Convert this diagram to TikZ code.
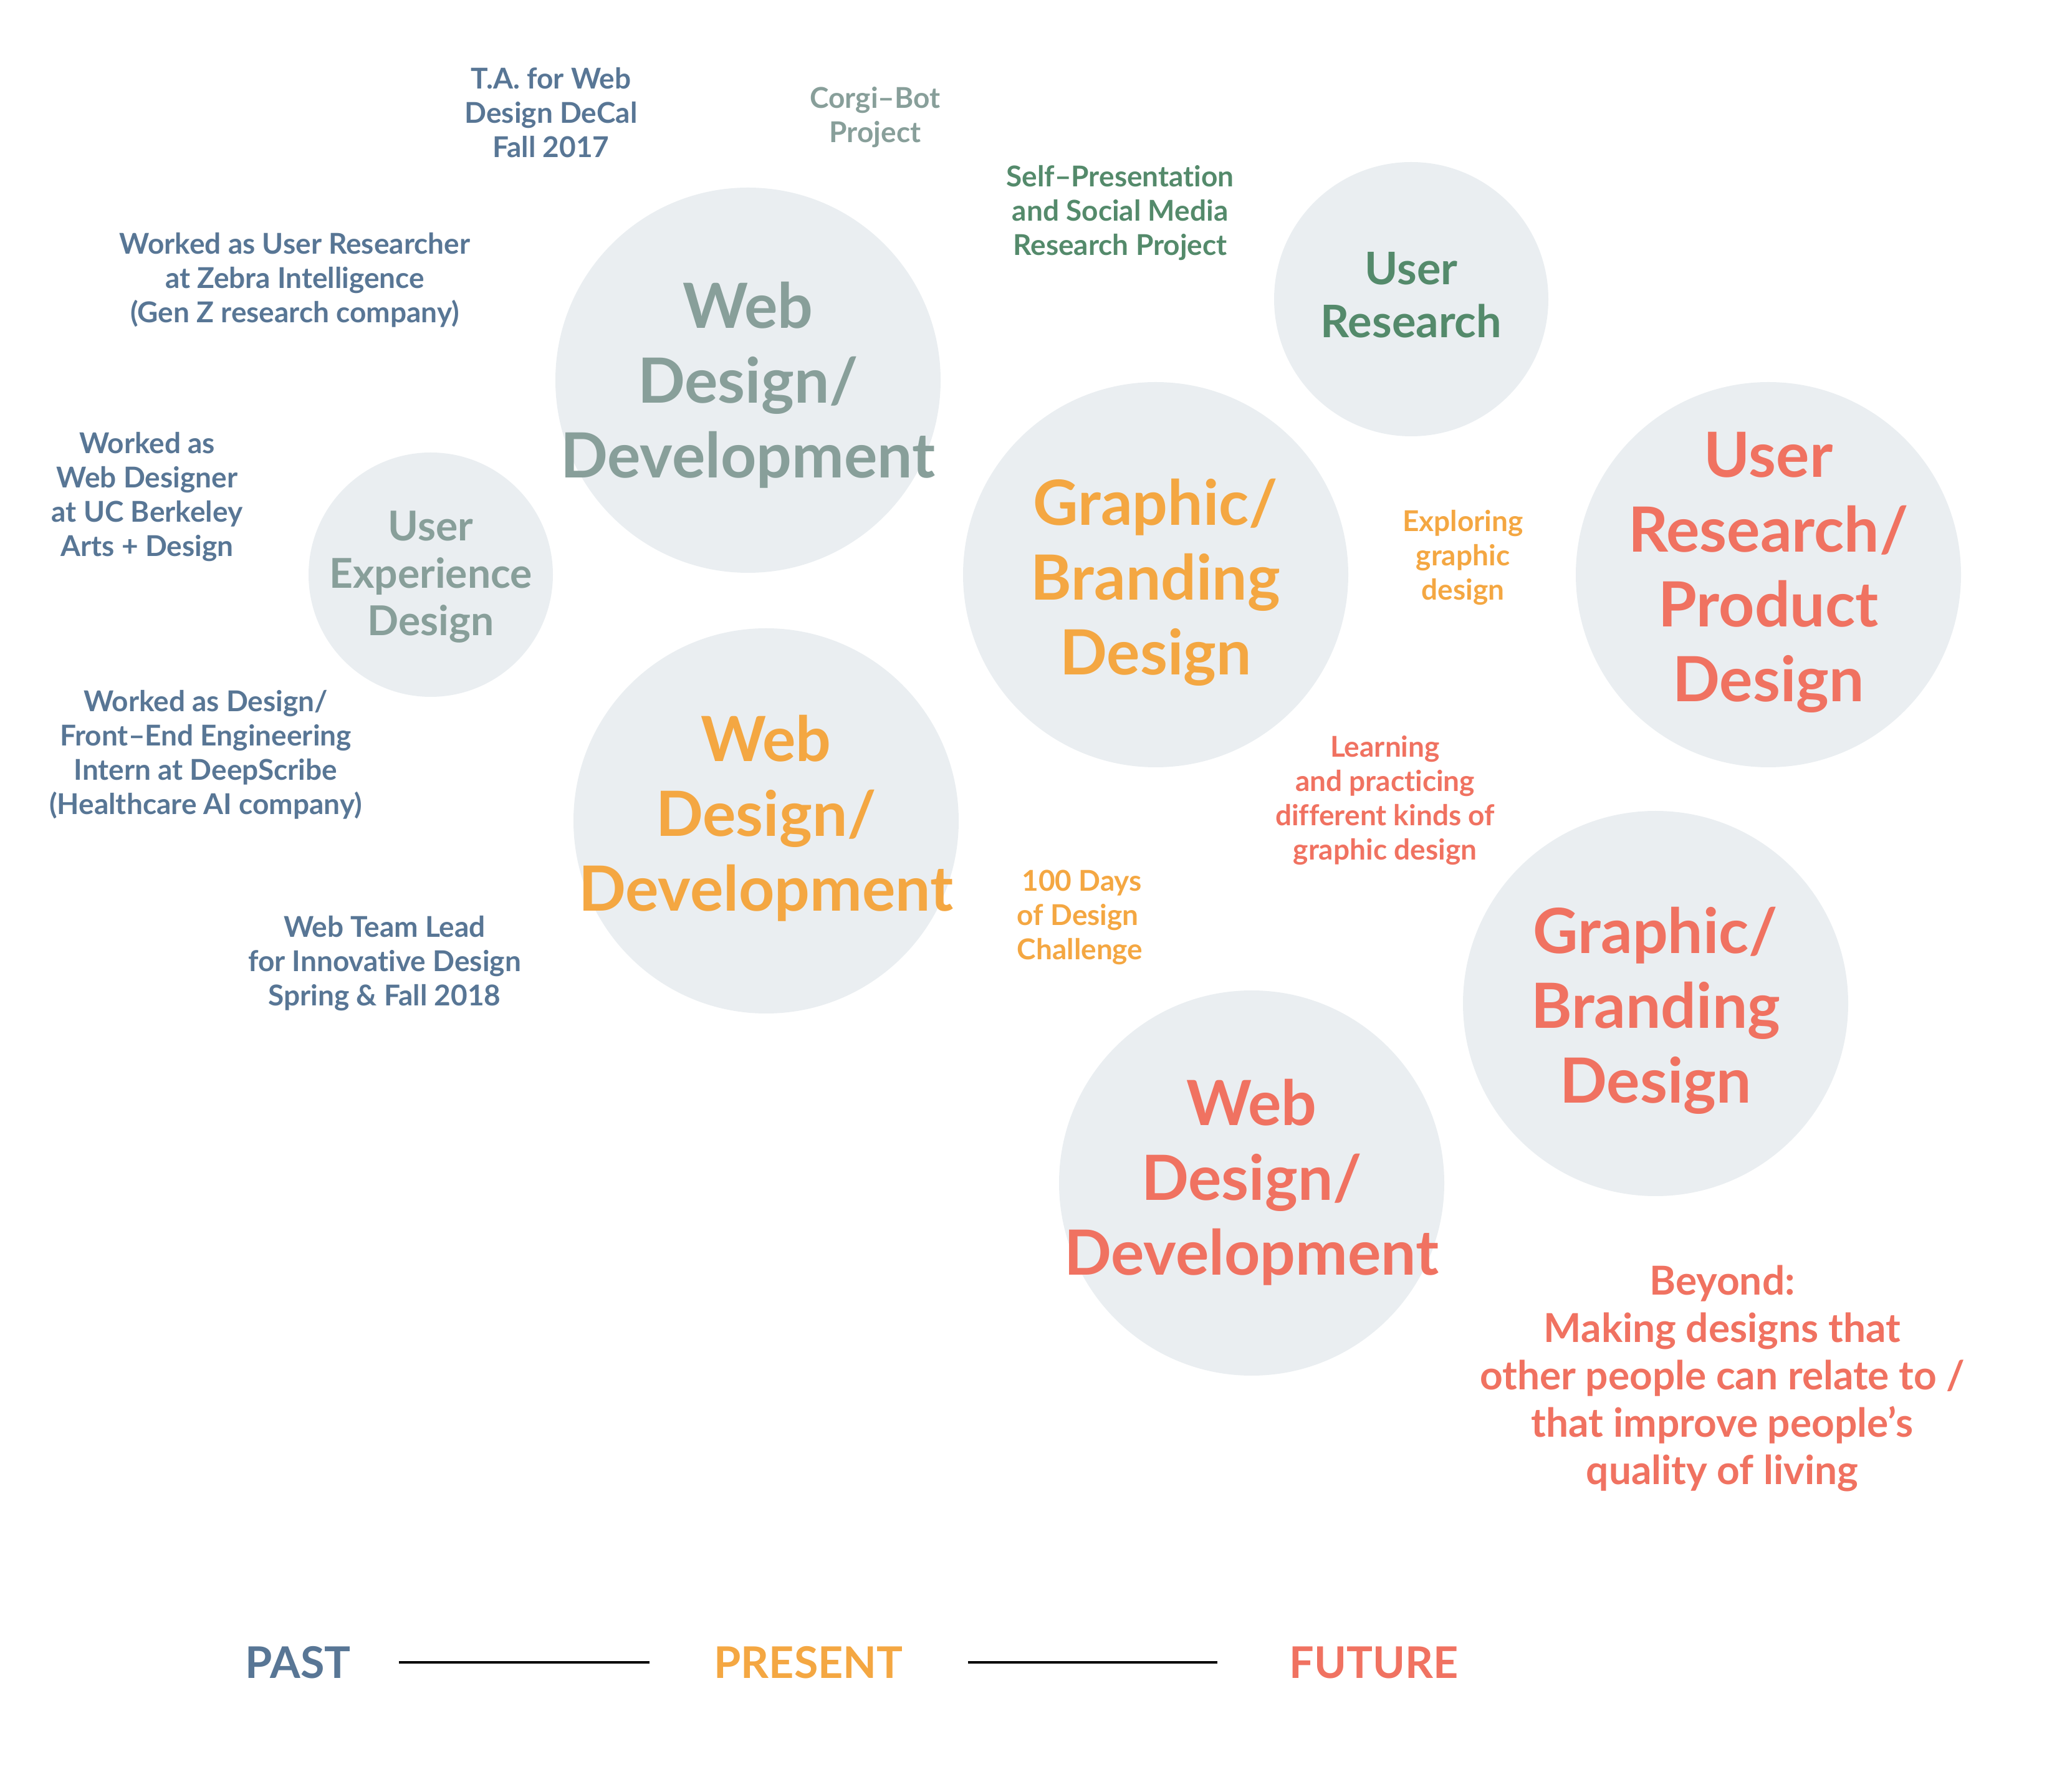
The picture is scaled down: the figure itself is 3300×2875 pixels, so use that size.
\documentclass[tikz,border=0pt]{standalone}
\usepackage{fontspec}
\setmainfont{Lato}[Ligatures={NoCommon}]
\definecolor{cblue}{HTML}{587695}
\definecolor{csage}{HTML}{889F9A}
\definecolor{cgreen}{HTML}{548A6B}
\definecolor{corange}{HTML}{F4A742}
\definecolor{ccoral}{HTML}{F07261}
\definecolor{bubfill}{HTML}{EAEEF1}
\tikzset{
  bub/.style={circle, fill=bubfill, draw=none, inner sep=0pt},
  bigbub/.style={bub, minimum size=154.5pt},
  bigtxt/.style={font=\bfseries\fontsize{25}{30}\selectfont, align=center, inner sep=0pt},
  note/.style={font=\bfseries\fontsize{11.5}{13.75}\selectfont, align=center, inner sep=0pt},
  beyond/.style={font=\bfseries\fontsize{16}{19}\selectfont, align=center, inner sep=0pt},
  era/.style={font=\bfseries\fontsize{17.5}{21}\selectfont, inner sep=0pt},
  rule/.style={line width=1.1pt, black}
}
\begin{document}
\begin{tikzpicture}[x=0.25pt,y=-0.25pt]
\useasboundingbox (0,0) rectangle (3300,2875);
% bubbles
\node[bigbub] (b1) at (1200,610) {};
\node[bub, minimum size=98pt] (b2) at (691,922) {};
\node[bigbub] (b3) at (1229,1317) {};
\node[bigbub] (b4) at (1854,922) {};
\node[bub, minimum size=110pt] (b5) at (2264,480) {};
\node[bigbub] (b6) at (2837,922) {};
\node[bigbub] (b7) at (2656,1610) {};
\node[bigbub] (b8) at (2008,1898) {};
% bubble titles
\node[bigtxt, text=csage] (t1) at (1200,618) {Web\\Design/\\Development};
\node[font=\bfseries\fontsize{16.5}{19}\selectfont, align=center, inner sep=0pt, text=csage] (t2) at (691,926) {User\\Experience\\Design};
\node[bigtxt, text=corange] (t3) at (1229,1313) {Web\\Design/\\Development};
\node[bigtxt, text=corange] (t4) at (1854,934) {Graphic/\\Branding\\Design};
\node[font=\bfseries\fontsize{18}{21.25}\selectfont, align=center, inner sep=0pt, text=cgreen] (t5) at (2264,473) {User\\Research};
\node[bigtxt, text=ccoral] (t6) at (2837,918) {User\\Research/\\Product\\Design};
\node[bigtxt, text=ccoral] (t7) at (2656,1621) {Graphic/\\Branding\\Design};
\node[bigtxt, text=ccoral] (t8) at (2008,1897) {Web\\Design/\\Development};
% notes
\node[note, text=cblue] (n1) at (884,181) {T.A. for Web\\Design DeCal\\Fall 2017};
\node[note, text=csage] (n2) at (1404,188) {Corgi–Bot\\Project};
\node[note, text=cgreen] (n3) at (1797,342) {Self–Presentation\\and Social Media\\Research Project};
\node[note, text=cblue] (n4) at (473,449) {Worked as User Researcher\\at Zebra Intelligence\\(Gen Z research company)};
\node[note, text=cblue] (n5) at (236,797) {Worked as\\Web Designer\\at UC Berkeley\\Arts + Design};
\node[note, text=cblue] (n6) at (330,1211) {Worked as Design/\\Front–End Engineering\\Intern at DeepScribe\\(Healthcare AI company)};
\node[note, text=cblue] (n7) at (617,1546) {Web Team Lead\\for Innovative Design\\Spring \& Fall 2018};
\node[note, text=corange, align=left, anchor=west] (n8) at (1631,1472) {\,100 Days\\of Design\\Challenge};
\node[note, text=corange] (n9) at (2347,895) {Exploring\\graphic\\design};
\node[note, text=ccoral] (n10) at (2222,1284) {Learning\\and practicing\\different kinds of\\graphic design};
\node[beyond, text=ccoral] (n11) at (2763,2211) {Beyond:\\Making designs that\\other people can relate to /\\that improve people’s\\quality of living};
% timeline
\node[era, text=cblue] (past) at (478,2667) {PAST};
\node[era, text=corange] (present) at (1297,2667) {PRESENT};
\node[era, text=ccoral] (future) at (2204,2667) {FUTURE};
\coordinate (r1a) at (640,2667);
\coordinate (r1b) at (1042,2667);
\coordinate (r2a) at (1553,2667);
\coordinate (r2b) at (1953,2667);
\draw[rule] (r1a) -- (r1b);
\draw[rule] (r2a) -- (r2b);
\end{tikzpicture}
\end{document}
